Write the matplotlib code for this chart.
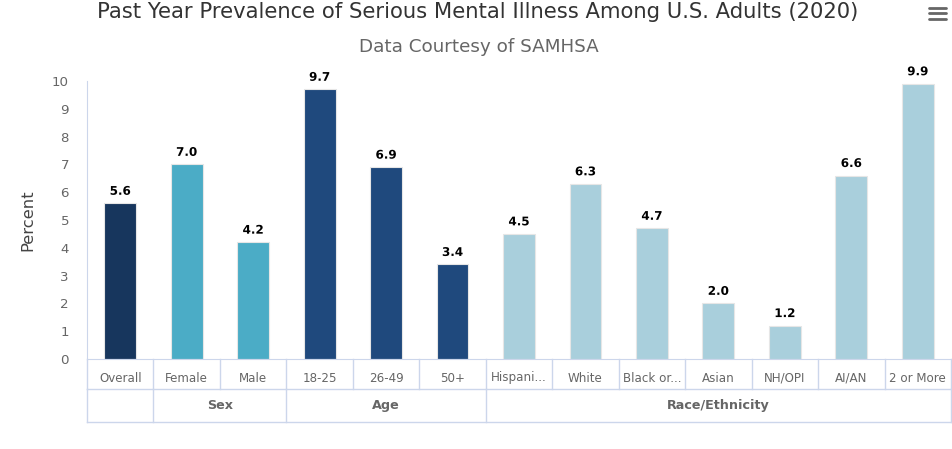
import matplotlib
matplotlib.use('Agg')
import matplotlib.pyplot as plt
import matplotlib.patheffects as pe

# Dados (SAMHSA, 2020)
categorias = ['Overall', 'Female', 'Male', '18-25', '26-49', '50+',
              'Hispani...', 'White', 'Black or...', 'Asian', 'NH/OPI', 'AI/AN', '2 or More']
valores = [5.6, 7.0, 4.2, 9.7, 6.9, 3.4, 4.5, 6.3, 4.7, 2.0, 1.2, 6.6, 9.9]
grupos = ['', 'Sex', 'Age', 'Race/Ethnicity']
tamanho_grupos = [1, 2, 3, 7]
cores_grupos = ['#17365d', '#4bacc6', '#1f497d', '#a9cfdc']

plt.rcParams['font.family'] = ['DejaVu Sans']

fig = plt.figure(figsize=(9.52, 4.49), dpi=100)
ax = fig.add_axes([87/952, 1 - 359/449, 864/952, 278/449])

cores = []
for g, n in enumerate(tamanho_grupos):
    cores += [cores_grupos[g]] * n

x = list(range(len(categorias)))
bars = ax.bar(x, valores, width=0.48, color=cores, edgecolor='#e6e6e6', linewidth=0.8)

for bar, v in zip(bars, valores):
    ax.text(bar.get_x() + bar.get_width()/2, v + 0.2, f'{v:.1f}', ha='center', va='bottom',
            fontsize=8.6, fontweight='bold', color='black', clip_on=False,
            path_effects=[pe.withStroke(linewidth=2, foreground='white')])

ax.set_xlim(-0.5, len(categorias) - 0.5)
ax.set_ylim(0, 10)
ax.set_yticks(range(0, 11))
ax.tick_params(axis='y', length=0, pad=13, labelsize=9.6, labelcolor='#666666')
ax.set_xticks([])
for s in ['top', 'right']:
    ax.spines[s].set_visible(False)
ax.spines['left'].set_color('#ccd6eb')
ax.spines['bottom'].set_color('#ccd6eb')
ax.set_ylabel('Percent', fontsize=11.8, color='#444444', labelpad=12)

# Tabela de categorias abaixo do eixo
tr = ax.get_xaxis_transform()
linha = dict(color='#ccd6eb', linewidth=1, transform=tr, clip_on=False)
y1, y2 = -30/278, -63/278
ax.plot([-0.5, 12.5], [y1, y1], **linha)
ax.plot([-0.5, 12.5], [y2, y2], **linha)
for i in range(len(categorias) + 1):
    ax.plot([i - 0.5, i - 0.5], [0, y1], **linha)
for i, nome in enumerate(categorias):
    ax.text(i, -19/278, nome, transform=tr,
            ha='center', va='center', fontsize=8.6, color='#666666')
inicio = -0.5
for nome, n in zip(grupos, tamanho_grupos):
    ax.plot([inicio, inicio], [y1, y2], **linha)
    ax.text(inicio + n/2, -46.5/278, nome, transform=tr, ha='center', va='center',
            fontsize=9.2, fontweight='bold', color='#666666')
    inicio += n
ax.plot([inicio, inicio], [y1, y2], **linha)

fig.text(478/952, 1 - 12/449, 'Past Year Prevalence of Serious Mental Illness Among U.S. Adults (2020)',
         ha='center', va='center', fontsize=15.2, color='#333333')
fig.text(479/952, 1 - 47/449, 'Data Courtesy of SAMHSA', ha='center', va='center',
         fontsize=13.2, color='#666666')

# Ícone de menu
for yy in [7.5, 13, 18.5]:
    fig.add_artist(plt.Line2D([929/952, 946/952], [1 - yy/449, 1 - yy/449],
                              color='#666666', linewidth=2, solid_capstyle='round'))

fig.savefig('out.png', dpi=100)
